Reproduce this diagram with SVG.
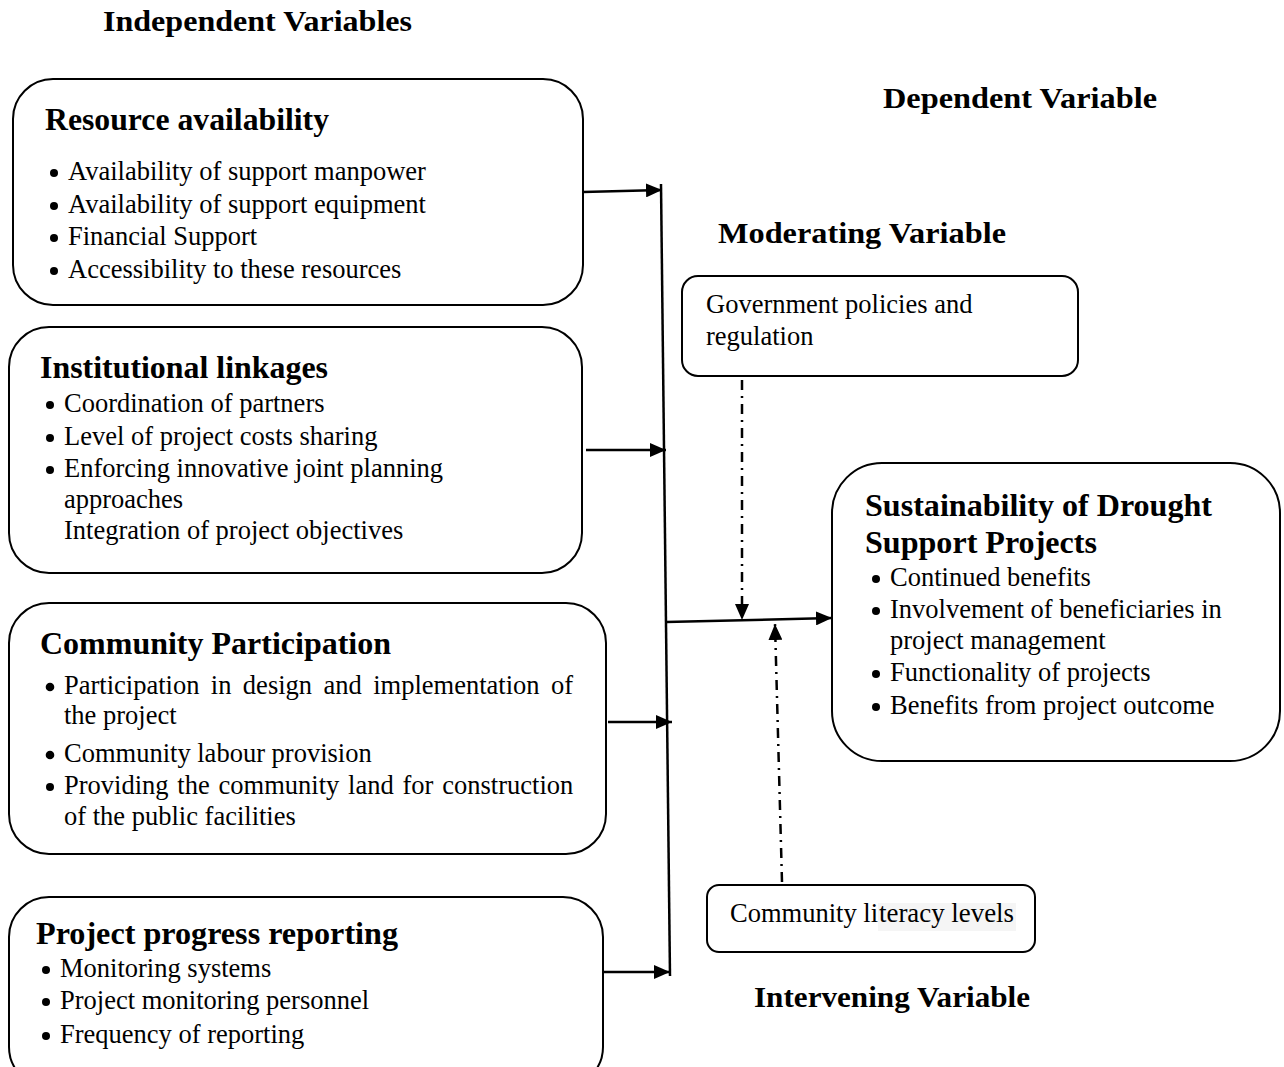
<svg xmlns="http://www.w3.org/2000/svg" width="1284" height="1067" viewBox="0 0 1284 1067">
<style>
.box{fill:#fff;stroke:#000;stroke-width:2}
.h{font-family:"Liberation Serif","Times New Roman",serif;font-weight:bold;font-size:30.5px;fill:#000}
.lab{font-family:"Liberation Serif","Times New Roman",serif;font-weight:bold;font-size:28.5px;fill:#000}
.t{font-family:"Liberation Serif","Times New Roman",serif;font-size:26.5px;fill:#000}
.c{stroke:#000;stroke-width:2.5;fill:none}
.d{stroke:#000;stroke-width:2.5;fill:none;stroke-dasharray:10 6 2 6}
</style>
<defs>
<marker id="ah2" viewBox="0 0 10 10" refX="10" refY="5" markerWidth="16" markerHeight="14" markerUnits="userSpaceOnUse" orient="auto" preserveAspectRatio="none">
<path d="M0,0 L10,5 L0,10 z" fill="#000"/>
</marker>
</defs>
<text class="lab" x="103" y="31" textLength="309" lengthAdjust="spacingAndGlyphs">Independent Variables</text>
<text class="lab" x="883" y="108" textLength="274" lengthAdjust="spacingAndGlyphs">Dependent Variable</text>
<text class="lab" x="718" y="243" textLength="288" lengthAdjust="spacingAndGlyphs">Moderating Variable</text>
<text class="lab" x="754" y="1007" textLength="276" lengthAdjust="spacingAndGlyphs">Intervening Variable</text>

<g id="resource">
<rect class="box" x="13" y="79" width="570" height="226" rx="40"/>
<text class="h" x="45" y="130" textLength="284" lengthAdjust="spacingAndGlyphs">Resource availability</text>
<g class="t">
<circle cx="54" cy="173" r="4"/><text x="68" y="180">Availability of support manpower</text>
<circle cx="54" cy="206" r="4"/><text x="68" y="213">Availability of support equipment</text>
<circle cx="54" cy="238" r="4"/><text x="68" y="245">Financial Support</text>
<circle cx="54" cy="271" r="4"/><text x="68" y="278">Accessibility to these resources</text>
</g>
</g>

<g id="institutional">
<rect class="box" x="9" y="327" width="573" height="246" rx="40"/>
<text class="h" x="40" y="378" textLength="288" lengthAdjust="spacingAndGlyphs">Institutional linkages</text>
<g class="t">
<circle cx="50" cy="405" r="4"/><text x="64" y="412">Coordination of partners</text>
<circle cx="50" cy="438" r="4"/><text x="64" y="445">Level of project costs sharing</text>
<circle cx="50" cy="470" r="4"/><text x="64" y="477">Enforcing innovative joint planning</text>
<text x="64" y="508">approaches</text>
<text x="64" y="539">Integration of project objectives</text>
</g>
</g>

<g id="community">
<rect class="box" x="9" y="603" width="597" height="251" rx="40"/>
<text class="h" x="40" y="654" textLength="351" lengthAdjust="spacingAndGlyphs">Community Participation</text>
<g class="t">
<circle cx="50" cy="687" r="4.3"/><text x="64" y="694" word-spacing="4.8">Participation in design and implementation of</text>
<text x="64" y="724">the project</text>
<circle cx="50" cy="755" r="4.3"/><text x="64" y="762">Community labour provision</text>
<circle cx="50" cy="787" r="4"/><text x="64" y="794" word-spacing="2.2">Providing the community land for construction</text>
<text x="64" y="825">of the public facilities</text>
</g>
</g>

<g id="progress">
<rect class="box" x="9" y="897" width="594" height="190" rx="40"/>
<text class="h" x="36" y="944" textLength="362" lengthAdjust="spacingAndGlyphs">Project progress reporting</text>
<g class="t">
<circle cx="46" cy="970" r="4"/><text x="60" y="977">Monitoring systems</text>
<circle cx="46" cy="1002" r="4"/><text x="60" y="1009">Project monitoring personnel</text>
<circle cx="46" cy="1036" r="4"/><text x="60" y="1043">Frequency of reporting</text>
</g>
</g>

<g id="government">
<rect class="box" x="682" y="276" width="396" height="100" rx="16"/>
<text class="t" x="706" y="313">Government policies and</text>
<text class="t" x="706" y="345">regulation</text>
</g>

<g id="sustainability">
<rect class="box" x="832" y="463" width="448" height="298" rx="50"/>
<text class="h" x="865" y="516" textLength="347" lengthAdjust="spacingAndGlyphs">Sustainability of Drought</text>
<text class="h" x="865" y="553" textLength="232" lengthAdjust="spacingAndGlyphs">Support Projects</text>
<g class="t">
<circle cx="876" cy="579" r="4"/><text x="890" y="586">Continued benefits</text>
<circle cx="876" cy="611" r="4"/><text x="890" y="618">Involvement of beneficiaries in</text>
<text x="890" y="649">project management</text>
<circle cx="876" cy="674" r="4"/><text x="890" y="681">Functionality of projects</text>
<circle cx="876" cy="707" r="4"/><text x="890" y="714">Benefits from project outcome</text>
</g>
</g>

<g id="literacy">
<rect class="box" x="707" y="885" width="328" height="67" rx="12"/>
<rect x="878" y="903" width="138" height="28" fill="#f5f5f5"/>
<text class="t" x="730" y="922" textLength="148" lengthAdjust="spacingAndGlyphs">Community li</text>
<text class="t" x="879" y="922" fill="#3a3a3a" textLength="135" lengthAdjust="spacingAndGlyphs">teracy levels</text>
</g>

<g id="connectors">
<line class="c" x1="661" y1="184" x2="670" y2="976"/>
<line class="c" x1="583" y1="192" x2="662" y2="190" marker-end="url(#ah2)"/>
<line class="c" x1="586" y1="450" x2="666" y2="450" marker-end="url(#ah2)"/>
<line class="c" x1="608" y1="722" x2="672" y2="722" marker-end="url(#ah2)"/>
<line class="c" x1="603" y1="972" x2="670" y2="972" marker-end="url(#ah2)"/>
<line class="c" x1="666" y1="622" x2="832" y2="618" marker-end="url(#ah2)"/>
<line class="d" x1="742" y1="380" x2="742" y2="620" marker-end="url(#ah2)"/>
<line class="d" x1="782" y1="882" x2="775" y2="624" marker-end="url(#ah2)"/>
</g>
</svg>
